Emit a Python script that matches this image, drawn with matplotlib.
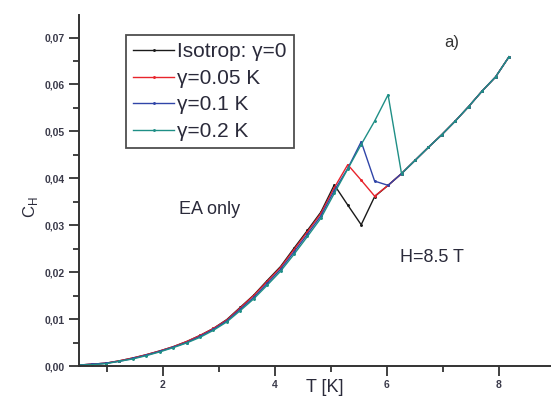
import matplotlib
matplotlib.use("Agg")
import matplotlib.pyplot as plt
from matplotlib.ticker import FuncFormatter, MultipleLocator

plt.rcParams['font.family'] = ['Liberation Sans', 'DejaVu Sans']

# Temperature grid (K)
T_low = [0.50, 0.74, 0.98, 1.22, 1.46, 1.70, 1.94, 2.18, 2.42, 2.66, 2.90,
         3.14, 3.38, 3.62, 3.86, 4.10, 4.34, 4.58, 4.82, 5.06]
T_mid = [5.30, 5.54, 5.78, 6.02]
T_high = [6.26, 6.50, 6.74, 6.98, 7.22, 7.46, 7.70, 7.94, 8.18]

# Isotrop: gamma = 0
C_iso_low = [0.0002, 0.0004, 0.0006, 0.0011, 0.0017, 0.0024, 0.0032, 0.0041, 0.0052,
             0.0065, 0.0080, 0.0099, 0.0125, 0.0151, 0.0182, 0.0212, 0.0251, 0.0289,
             0.0328, 0.0386]
C_iso_mid = [0.0343, 0.0301, 0.0361, 0.0385]
# gamma = 0.05 K
C_005_low = [0.0002, 0.0004, 0.0006, 0.0011, 0.0017, 0.0024, 0.0032, 0.0041, 0.0052,
             0.0065, 0.0080, 0.0098, 0.0124, 0.0150, 0.0180, 0.0210, 0.0248, 0.0286,
             0.0325, 0.0380]
C_005_mid = [0.0429, 0.0396, 0.0362, 0.0385]
# gamma = 0.1 K
C_01_low = [0.0002, 0.0004, 0.0006, 0.0010, 0.0016, 0.0023, 0.0031, 0.0040, 0.0050,
            0.0063, 0.0078, 0.0096, 0.0121, 0.0146, 0.0176, 0.0206, 0.0243, 0.0281,
            0.0320, 0.0374]
C_01_mid = [0.0421, 0.0478, 0.0394, 0.0385]
# gamma = 0.2 K
C_02_low = [0.0002, 0.0003, 0.0005, 0.0010, 0.0015, 0.0022, 0.0030, 0.0039, 0.0049,
            0.0061, 0.0076, 0.0094, 0.0118, 0.0143, 0.0172, 0.0202, 0.0238, 0.0276,
            0.0315, 0.0368]
C_02_mid = [0.0420, 0.0472, 0.0522, 0.0578]
# common high-temperature branch
C_high = [0.0410, 0.0438, 0.0466, 0.0493, 0.0522, 0.0553, 0.0586, 0.0616, 0.0659]

labels = ["Isotrop: γ=0", "γ=0.05 K", "γ=0.1 K", "γ=0.2 K"]
colors = ["#1a1a1a", "#e8242c", "#3045a8", "#1f8f86"]

series = [C_iso_low + C_iso_mid + C_high,
          C_005_low + C_005_mid + C_high,
          C_01_low + C_01_mid + C_high,
          C_02_low + C_02_mid + C_high]
T_all = T_low + T_mid + T_high

fig = plt.figure(figsize=(5.51, 3.96), dpi=100)
ax = fig.add_axes([79/551, 30/396, 472/551, 351/396])

for C, lab, col in zip(series, labels, colors):
    ax.plot(T_all, C, color=col, lw=1.0, marker='o', ms=1.1, label=lab)

ax.set_xlim(0.5, 8.93)
ax.set_ylim(0, 0.0748)

for s in ['top', 'right']:
    ax.spines[s].set_visible(False)
for s in ['left', 'bottom']:
    ax.spines[s].set_linewidth(1.4)
    ax.spines[s].set_color('#333333')

ax.xaxis.set_major_locator(MultipleLocator(2))
ax.xaxis.set_minor_locator(MultipleLocator(1))
ax.yaxis.set_major_locator(MultipleLocator(0.01))
ax.yaxis.set_minor_locator(MultipleLocator(0.005))
ax.yaxis.set_major_formatter(FuncFormatter(lambda v, p: f"{v:.2f}".replace('.', ',')))
ax.xaxis.set_major_formatter(FuncFormatter(lambda v, p: f"{v:.0f}"))
ax.tick_params(which='major', length=7, width=1.3, color='#333333',
               labelsize=7.5, labelcolor='#3a3a4a', pad=3)
ax.tick_params(which='minor', length=4.5, width=1.3, color='#333333')
for lbl in ax.get_xticklabels() + ax.get_yticklabels():
    lbl.set_fontweight('bold')

leg = ax.legend(loc='upper left', bbox_to_anchor=(126/551, 1 - 35/396),
                bbox_transform=fig.transFigure, fontsize=15, frameon=True,
                fancybox=False, edgecolor='#222222', handlelength=1.95,
                handletextpad=0.15, borderpad=0.35, labelspacing=0.36,
                borderaxespad=0, numpoints=1)
leg.get_frame().set_linewidth(1.3)
for t in leg.get_texts():
    t.set_color('#2a2a3a')

fig.text(452/551, 1 - 42/396, "a)", fontsize=12, ha='center', va='center', color='#333333')
fig.text(210/551, 1 - 210/396, "EA only", fontsize=13, ha='center', va='center', color='#2a2a3a')
fig.text(432/551, 1 - 257/396, "H=8.5 T", fontsize=13, ha='center', va='center', color='#2a2a3a')
fig.text(30/551, 1 - 207/396, r"C$_\mathregular{H}$", fontsize=12, rotation=90,
         ha='center', va='center', color='#2a2a3a')
fig.text(325/551, 1 - 387/396, "T [K]", fontsize=13, ha='center', va='center', color='#2a2a3a')

fig.savefig("out.png", dpi=100)
